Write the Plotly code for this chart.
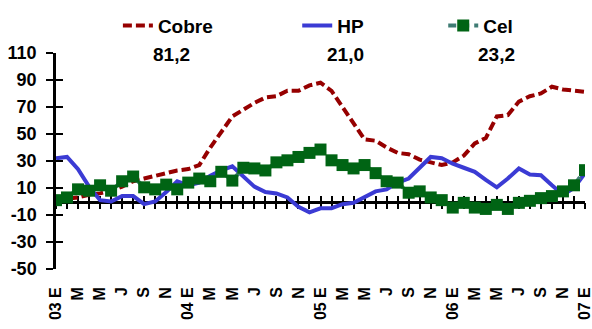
import plotly.graph_objects as go

# ---------------- data ----------------
months = list(range(49))  # Jan 2003 .. Jan 2007
tick_idx = list(range(0, 49, 2))
tick_labels = ["03 E", "M", "M", "J", "S", "N",
               "04 E", "M", "M", "J", "S", "N",
               "05 E", "M", "M", "J", "S", "N",
               "06 E", "M", "M", "J", "S", "N",
               "07 E"]

cobre = [0, 2, 3, 5, 6, 8, 11, 15, 17, 19, 21, 23,
         24, 27, 40, 52, 63, 68, 73, 77, 78, 82, 82, 86,
         88, 82, 70, 58, 46, 45, 40, 36, 35, 31, 29, 27,
         29, 34, 43, 47, 63, 64, 74, 78, 80, 85, 83, 82,
         81.2]
hp = [32, 33, 24, 11, 1, 0, 4, 4, -2, 0, 7, 15,
      12, 14, 19, 23, 26, 18, 11, 7, 6, 3, -4, -8,
      -5, -5, -2, -1, 3, 7.5, 9, 14, 17, 25, 33, 32,
      28, 25, 22, 16, 10.5, 17, 24.5, 20, 19.5, 12, 5, 10,
      21.0]
cel = [1, 3, 9, 8, 12, 8, 15, 18.5, 10.5, 9, 12.5, 9,
       14, 17, 15, 22, 15.5, 25, 24.5, 23, 29, 30.5, 33, 36,
       38.5, 30.5, 27, 24.5, 27, 21, 15, 14, 6.5, 7.5, 3, 1,
       -4.5, -1, -4.5, -5.5, -2.5, -5.5, -1, 0.5, 2.5, 4, 7.5, 12,
       23.2]

y_ticks = [-50, -30, -10, 10, 30, 50, 70, 90, 110]
y_tick_labels = ["-50", "-30", "-10", "10", "30", "50", "70", "90", "110"]
y_min, y_max = -50, 110

# ---------------- style ----------------
FONT = "Liberation Sans, Arial, sans-serif"
RED = "#960000"
BLUE = "#3b3bd4"
GREEN = "#006414"
TEAL = "#3f7c74"

fig = go.Figure()

fig.add_trace(go.Scatter(
    x=months, y=cobre, name="Cobre", mode="lines",
    line=dict(color=RED, width=4, dash="9px,4px"),
    legend="legend", hoverinfo="skip"))
fig.add_trace(go.Scatter(
    x=months, y=hp, name="HP", mode="lines",
    line=dict(color=BLUE, width=4),
    legend="legend2", hoverinfo="skip"))
fig.add_trace(go.Scatter(
    x=months, y=cel, name="Cel", mode="lines+markers",
    line=dict(color=TEAL, width=4, dash="8px,5px"),
    marker=dict(symbol="square", size=12, color=GREEN,
                line=dict(width=0)),
    legend="legend3", hoverinfo="skip"))

# invisible helpers so the extra axes (zero-line axis with crossing ticks) get drawn
for xa, ya in (("x2", "y"), ("x3", "y"), ("x", "y2")):
    fig.add_trace(go.Scatter(x=months, y=cel, xaxis=xa, yaxis=ya, mode="lines",
                             line=dict(width=0, color="rgba(0,0,0,0)"),
                             opacity=0, showlegend=False, hoverinfo="skip"))

zero_pos = (0 - y_min) / (y_max - y_min)

tick_font = dict(family=FONT, size=18, color="black", weight="bold")

fig.update_layout(
    template="none",
    width=592, height=329,
    margin=dict(l=56, r=7, t=49, b=60),
    paper_bgcolor="white", plot_bgcolor="white",
    font=dict(family=FONT, color="black"),
    xaxis=dict(range=[0, 48], tickmode="array", tickvals=tick_idx,
               ticktext=tick_labels, tickangle=-90, ticks="",
               showline=False, showgrid=False, zeroline=False,
               ticklabelstandoff=14, ticklabeloverflow="allow",
               tickfont=dict(family=FONT, size=16, color="black", weight="bold"),
               automargin=False),
    xaxis2=dict(range=[0, 48], overlaying="x", matches="x", anchor="free",
                position=zero_pos, side="bottom", showline=True,
                linecolor="black", linewidth=2.5, ticks="outside",
                ticklen=6, tickwidth=2, tickcolor="black", dtick=1, tick0=0,
                showticklabels=False, showgrid=False, zeroline=False,
                layer="below traces", automargin=False),
    xaxis3=dict(range=[0, 48], overlaying="x", matches="x", anchor="free",
                position=zero_pos, side="bottom", showline=False,
                ticks="inside", ticklen=6, tickwidth=2, tickcolor="black",
                dtick=1, tick0=0, showticklabels=False, showgrid=False,
                zeroline=False, layer="below traces", automargin=False),
    yaxis=dict(range=[y_min, y_max], tickmode="array", tickvals=y_ticks,
               ticktext=y_tick_labels, showline=True, linecolor="black",
               linewidth=2.5, ticks="outside", ticklen=7, tickwidth=2,
               tickcolor="black", showgrid=False, zeroline=False,
               ticklabelstandoff=6, tickfont=tick_font, automargin=False),
    yaxis2=dict(range=[y_min, y_max], overlaying="y", matches="y",
                side="left", anchor="x", tickmode="array", tickvals=y_ticks,
                showline=False, ticks="inside", ticklen=7, tickwidth=2,
                tickcolor="black", showticklabels=False, showgrid=False,
                zeroline=False, automargin=False),
    showlegend=True,
)

legend_common = dict(orientation="h", yanchor="middle", y=1.127,
                     xanchor="left", bgcolor="rgba(0,0,0,0)",
                     font=dict(family=FONT, size=19, color="black", weight="bold"))
fig.update_layout(
    legend=dict(x=0.117, **legend_common),
    legend2=dict(x=0.456, **legend_common),
    legend3=dict(x=0.732, **legend_common),
)

# values row: last value of each series
for series, xp in ((cobre, 0.219), (hp, 0.548), (cel, 0.832)):
    fig.add_annotation(
        x=xp, y=0.995, xref="paper", yref="paper",
        text=f"{series[-1]:.1f}".replace(".", ","),
        showarrow=False, xanchor="center", yanchor="middle",
        font=dict(family=FONT, size=19, color="black", weight="bold"))

fig.write_html("out.html")
